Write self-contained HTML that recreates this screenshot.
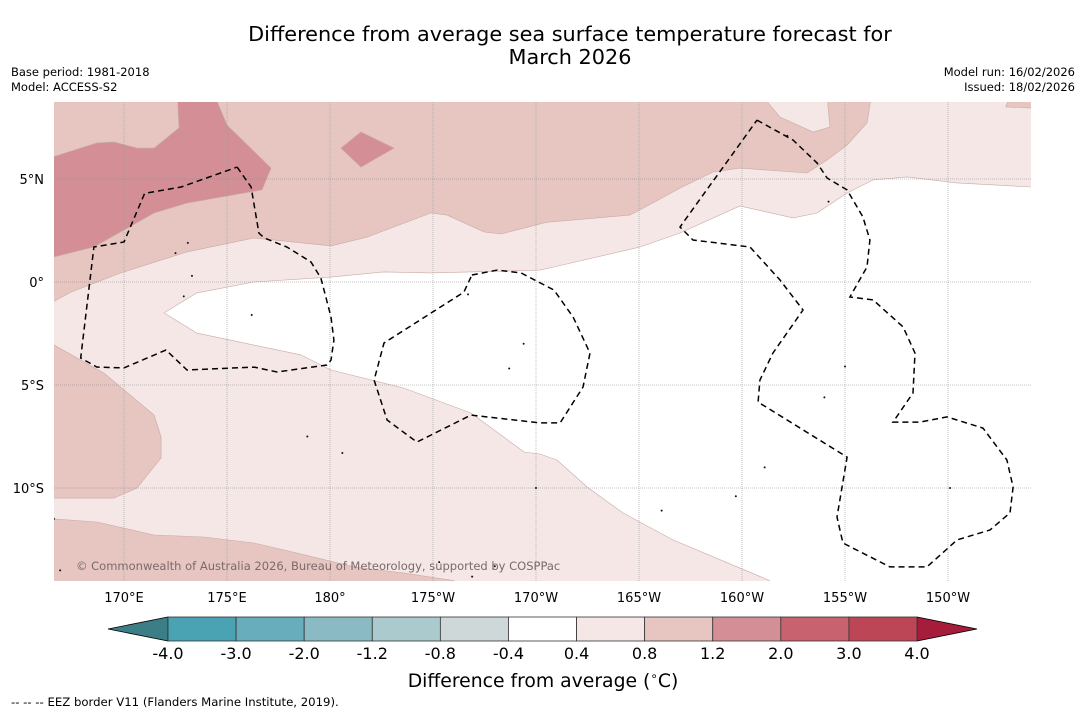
<!DOCTYPE html>
<html><head><meta charset="utf-8"><style>
html,body{margin:0;padding:0;background:#fff;}
svg{display:block;font-family:"DejaVu Sans","Liberation Sans",sans-serif;}
</style></head><body>
<svg id="s" width="1085" height="713" viewBox="0 0 1085 713" xmlns="http://www.w3.org/2000/svg">
<text x="570" y="41" font-size="20.8" text-anchor="middle">Difference from average sea surface temperature forecast for</text>
<text x="570" y="64" font-size="20.8" text-anchor="middle">March 2026</text>
<text x="11" y="76" font-size="11.5">Base period: 1981-2018</text>
<text x="11" y="91" font-size="11.5">Model: ACCESS-S2</text>
<text x="1075" y="76" font-size="11.5" text-anchor="end">Model run: 16/02/2026</text>
<text x="1075" y="91" font-size="11.5" text-anchor="end">Issued: 18/02/2026</text>
<defs><clipPath id="clip"><rect x="54" y="102" width="977" height="479"/></clipPath></defs>
<g id="map" clip-path="url(#clip)"></g>
<g id="axes"></g>
<g id="cbar"></g>
<text x="543" y="687" font-size="18.8" text-anchor="middle">Difference from average (<tspan font-size="12" dy="-7">∘</tspan><tspan dy="7">C)</tspan></text>
<text x="11" y="706" font-size="11.7">--  --  -- EEZ border V11 (Flanders Marine Institute, 2019).</text>
</svg>
<script>
const lonTicks=[170,175,180,185,190,195,200,205,210];
const lonTickLabels=["170°E","175°E","180°","175°W","170°W","165°W","160°W","155°W","150°W"];
const latTicks=[5,0,-5,-10];
const latTickLabels=["5°N","0°","5°S","10°S"];
const cbBounds=[-4.0,-3.0,-2.0,-1.2,-0.8,-0.4,0.4,0.8,1.2,2.0,3.0,4.0];
const cbLabels=["-4.0","-3.0","-2.0","-1.2","-0.8","-0.4","0.4","0.8","1.2","2.0","3.0","4.0"];
const cbColors=["#4aa3b3","#68adbb","#8abac4","#abcacd","#cfd8d9","#ffffff","#f4e7e5","#e7c6c2","#d48f96","#c8626e","#bd4656"];
const cbLowColor="#3b7e86", cbHighColor="#a51d3b";
const zoneWhite=[[171.94,-1.5],[173.54,-0.53],[176.31,0],[180.05,0.24],[182.62,0.49],[184.9,0.44],[190.19,0.58],[190.87,0.73],[195.05,1.7],[196.99,2.38],[199.9,3.69],[202.48,3.11],[203.64,3.35],[205.1,4.32],[206.36,4.95],[208.01,5.1],[210.44,4.81],[215,4.56],[215,-15.5],[201.8,-15.5],[201.36,-14.5],[196.65,-12.52],[194.22,-11.21],[192.48,-9.95],[191.02,-8.64],[190.19,-8.35],[189.42,-8.25],[186.84,-6.36],[183.59,-5.15],[180.05,-4.27],[178.59,-3.54],[173.54,-2.48]];
const zoneUpper08=[[166,9.5],[166,-1.26],[167.43,-0.49],[169.85,0.44],[173.06,1.46],[176.31,2.14],[180.05,1.75],[181.8,2.18],[184.9,3.35],[185.68,3.25],[187.48,2.43],[188.3,2.33],[190.5,2.9],[194.56,3.25],[195.05,3.5],[196.99,4.56],[198.59,5.34],[199.9,5.53],[203.16,5.29],[204.13,5.92],[205.1,6.65],[206.07,7.72],[206.36,9.5]];
const holeLight=[[201.26,9.5],[201.26,8.7],[201.84,8.01],[203.45,7.28],[204.27,7.52],[204.17,8.59],[204.2,9.5]];
const spotUpper08=[[212.8,8.5],[215,8.4],[215,9.5],[213.2,9.5]];
const zoneBlob12=[[166,5.9],[168.69,6.75],[169.51,6.8],[170.63,6.5],[171.46,6.5],[172.67,7.48],[172.57,9.5],[174.22,9.5],[175.0,7.62],[177.14,5.53],[176.7,4.47],[173.06,3.83],[171.46,3.35],[168.54,1.7],[166,1.07]];
const zoneDiamond12=[[180.53,6.5],[181.5,7.28],[183.11,6.5],[181.5,5.58]];
const zoneLowerLeft08=[[166,-2.72],[169.03,-4.42],[171.46,-6.46],[171.8,-7.52],[171.8,-8.54],[170.63,-10.0],[169.51,-10.49],[166,-10.49]];
const zoneBottom08=[[166,-11.46],[168.69,-11.65],[171.46,-12.28],[173.88,-12.38],[176.31,-12.67],[178.4,-13.16],[181.17,-13.83],[183.59,-14.13],[186.02,-14.5],[187,-15.5],[166,-15.5]];
const eezWest=[[175.49,5.58],[176.17,4.61],[176.55,2.38],[176.8,2.14],[177.91,1.7],[179.08,0.97],[179.56,0.19],[180.05,-1.7],[180.19,-2.82],[180.05,-3.79],[179.85,-4.03],[177.43,-4.37],[176.31,-4.13],[173.06,-4.27],[172.04,-3.3],[170,-4.17],[168.69,-4.13],[167.9,-3.69],[168.54,1.7],[170,1.94],[171.0,4.3],[172.77,4.61],[175.49,5.58]];
const eezMid=[[186.89,0.34],[188.11,0.58],[189.27,0.44],[190.87,-0.39],[191.8,-1.7],[192.62,-3.45],[192.28,-5.1],[191.17,-6.84],[190.19,-6.84],[186.84,-6.46],[184.22,-7.77],[182.77,-6.7],[182.14,-4.76],[182.62,-2.96],[186.5,-0.49],[186.89,0.34]];
const eezEast=[[200.73,7.86],[202.48,6.89],[203.64,5.78],[204.13,5.05],[205.1,4.47],[205.87,3.16],[206.21,2.04],[206.07,0.73],[205.24,-0.73],[206.36,-0.87],[207.82,-2.18],[208.4,-3.45],[208.3,-5.39],[207.33,-6.8],[208.64,-6.8],[209.95,-6.55],[211.7,-7.09],[212.86,-8.64],[213.16,-9.95],[213.01,-11.21],[212.04,-12.04],[210.44,-12.52],[208.98,-13.83],[207.18,-13.83],[204.9,-12.67],[204.61,-11.41],[205.1,-8.5],[200.78,-5.83],[200.87,-4.76],[201.5,-3.45],[202.96,-1.36],[201.84,0.1],[200.39,1.7],[197.62,2.04],[196.99,2.67],[200.73,7.86]];
const islands=[[172.5,1.4],[173.1,1.9],[173.3,0.3],[172.9,-0.7],[176.2,-1.6],[178.9,-7.5],[180.6,-8.3],[186.7,-0.6],[189.4,-3.0],[188.7,-4.2],[190.0,-10.0],[188.0,-13.8],[185.3,-13.6],[186.9,-14.3],[196.1,-11.1],[199.7,-10.4],[205.0,-4.1],[204.0,-5.6],[201.1,-9.0],[202.2,7.1],[204.2,3.9],[210.1,-10.0],[166.6,-11.5],[166.9,-14.0]];
const NS="http://www.w3.org/2000/svg";
const X=lon=>124+(lon-170)*20.6;
const Y=lat=>282-lat*20.6;
function mk(tag,attrs,parent){const e=document.createElementNS(NS,tag);for(const k in attrs)e.setAttribute(k,attrs[k]);parent.appendChild(e);return e;}
const pts=a=>a.map(p=>X(p[0]).toFixed(1)+","+Y(p[1]).toFixed(1)).join(" ");
const map=document.getElementById('map');
let bg=mk('rect',{x:54,y:102,width:977,height:479,fill:cbColors[6]},map);


const zones=[[zoneWhite,cbColors[5],'anomaly-neutral-zone'],[zoneUpper08,cbColors[7],'anomaly-0.8-1.2-north'],[holeLight,cbColors[6],'anomaly-0.4-0.8-hole'],[spotUpper08,cbColors[7],'anomaly-0.8-1.2-spot'],[zoneBlob12,cbColors[8],'anomaly-1.2-2.0-west'],[zoneDiamond12,cbColors[8],'anomaly-1.2-2.0-patch'],[zoneLowerLeft08,cbColors[7],'anomaly-0.8-1.2-southwest'],[zoneBottom08,cbColors[7],'anomaly-0.8-1.2-south']];
zones.forEach(z=>{const e=mk('polygon',{points:pts(z[0]),fill:z[1],stroke:'#c9aaa6','stroke-width':0.6},map);

});
lonTicks.forEach(l=>{const e=mk('line',{x1:X(l),x2:X(l),y1:102,y2:581,stroke:'#999','stroke-width':0.6,'stroke-dasharray':'1,1'},map);

});
latTicks.forEach(l=>{const e=mk('line',{x1:54,x2:1031,y1:Y(l),y2:Y(l),stroke:'#888','stroke-width':0.6,'stroke-dasharray':'1,1'},map);

});
islands.forEach(p=>{const e=mk('circle',{cx:X(p[0]),cy:Y(p[1]),r:1,fill:'#111'},map);

});
[[eezWest,'eez-border-west'],[eezMid,'eez-border-central'],[eezEast,'eez-border-east']].forEach(z=>{const e=mk('polyline',{points:pts(z[0]),fill:'none',stroke:'#000','stroke-width':1.5,'stroke-dasharray':'6,4'},map);

});
const cp=mk('text',{x:76,y:570,'font-size':11.5,fill:'#7a6a6a'},map);cp.textContent="© Commonwealth of Australia 2026, Bureau of Meteorology, supported by COSPPac";


const axes=document.getElementById('axes');
lonTicks.forEach((l,i)=>{const t=mk('text',{x:X(l),y:602,'font-size':13,'text-anchor':'middle'},axes);t.textContent=lonTickLabels[i];

});
latTicks.forEach((l,i)=>{const t=mk('text',{x:44,y:Y(l)+5,'font-size':13,'text-anchor':'end'},axes);t.textContent=latTickLabels[i];

});
const cb=document.getElementById('cbar');
const cbx0=168,cbx1=917,cby=617,cbh=24,n=cbBounds.length-1,w=(cbx1-cbx0)/n;
const CX=i=>cbx0+i*w;
const lt=mk('polygon',{points:`${cbx0},${cby} ${cbx0},${cby+cbh} 108,${cby+cbh/2}`,fill:cbLowColor,stroke:'#000','stroke-width':0.8},cb);


const rt=mk('polygon',{points:`${cbx1},${cby} ${cbx1},${cby+cbh} 977,${cby+cbh/2}`,fill:cbHighColor,stroke:'#000','stroke-width':0.8},cb);


cbColors.forEach((c,i)=>{const r=mk('rect',{x:CX(i),y:cby,width:w,height:cbh,fill:c,stroke:'#333','stroke-width':0.8},cb);

});
cbLabels.forEach((s,i)=>{const t=mk('text',{x:CX(i),y:659,'font-size':16,'text-anchor':'middle'},cb);t.textContent=s;

});
</script>
</body></html>
